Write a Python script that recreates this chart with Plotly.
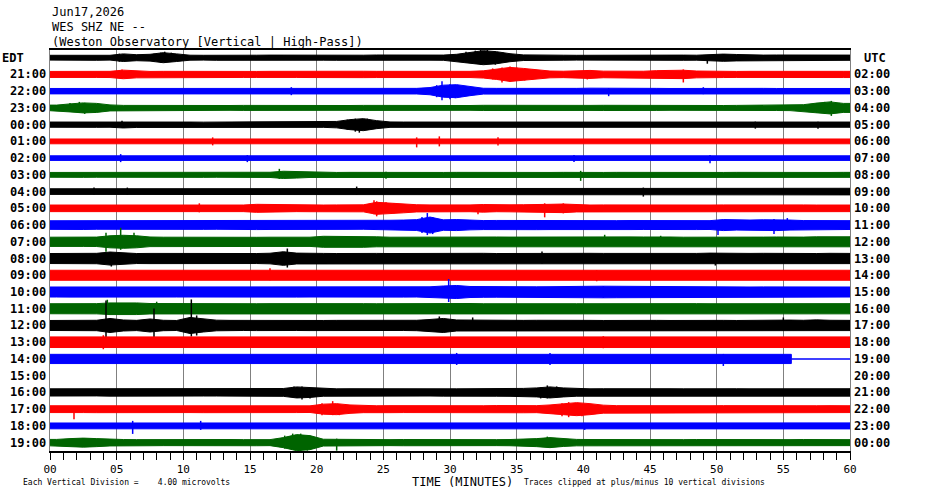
"""
Helicorder-style plot of a day of WES SHZ seismic traces, one row per hour.
Each trace is drawn as its amplitude envelope (read per minute) plus
the stand-out spikes.
"""

import plotly.graph_objects as go

# tick labels along the time axis
tick_minutes = [0, 5, 10, 15, 20, 25, 30, 35, 40, 45, 50, 55, 60]
tick_text = ['00', '05', '10', '15', '20', '25', '30', '35', '40', '45',
             '50', '55', '60']

# hour labels, local (EDT) on the left, UTC on the right
edt_labels = ['', '21:00', '22:00', '23:00', '00:00', '01:00', '02:00',
              '03:00', '04:00', '05:00', '06:00', '07:00', '08:00', '09:00',
              '10:00', '11:00', '12:00', '13:00', '14:00', '15:00', '16:00',
              '17:00', '18:00', '19:00']
utc_labels = ['', '02:00', '03:00', '04:00', '05:00', '06:00', '07:00',
              '08:00', '09:00', '10:00', '11:00', '12:00', '13:00', '14:00',
              '15:00', '16:00', '17:00', '18:00', '19:00', '20:00', '21:00',
              '22:00', '23:00', '00:00']

# half-amplitude of each trace, one value per minute (pixels at this scale)
env_2000 = [2.4, 2.5, 2.4, 2.6, 2.4, 3.8, 3.0, 3.4, 5.0, 3.8,
            2.5, 2.4, 2.6, 2.5, 2.4, 2.5, 2.6, 2.5, 2.4, 2.6,
            2.5, 2.6, 2.6, 2.5, 2.7, 2.6, 2.5, 2.6, 2.5, 2.6,
            3.4, 5.5, 7.0, 6.0, 4.0, 2.8, 2.5, 2.6, 2.5, 2.4,
            2.5, 2.6, 2.5, 2.4, 2.5, 2.6, 2.5, 2.6, 2.5, 3.0,
            3.6, 3.2, 2.7, 2.6, 2.7, 2.6, 2.5, 2.6, 2.7, 2.6]
env_2100 = [3.0, 3.1, 3.2, 3.0, 3.1, 4.3, 3.4, 3.0, 3.1, 3.0,
            3.1, 3.0, 3.0, 3.1, 3.0, 3.0, 3.1, 3.2, 3.0, 3.1,
            3.0, 3.1, 3.0, 3.2, 3.1, 3.0, 3.1, 3.2, 3.0, 3.1,
            3.0, 3.1, 3.6, 5.0, 7.0, 6.0, 4.5, 3.4, 3.2, 3.3,
            4.0, 3.3, 3.2, 3.1, 3.2, 3.8, 4.0, 4.2, 3.4, 3.1,
            3.1, 3.0, 3.1, 3.0, 3.1, 3.0, 3.1, 3.2, 3.0, 3.1]
env_2200 = [2.7, 2.8, 2.7, 2.7, 2.8, 2.8, 2.7, 2.8, 2.7, 2.7,
            2.7, 2.8, 2.7, 2.8, 2.7, 2.7, 2.8, 2.9, 3.3, 2.8,
            2.7, 2.8, 2.7, 2.8, 2.7, 2.7, 2.8, 2.8, 3.6, 6.0,
            6.5, 4.5, 2.9, 2.8, 2.7, 2.8, 2.7, 2.8, 2.7, 2.8,
            3.0, 3.1, 3.0, 2.8, 2.7, 2.8, 2.7, 2.8, 3.0, 2.8,
            3.0, 2.8, 2.7, 2.8, 2.7, 2.7, 2.8, 2.7, 2.8, 2.7]
env_2300 = [2.8, 4.0, 5.0, 4.5, 3.0, 2.5, 2.4, 2.5, 2.4, 2.5,
            2.4, 2.5, 2.4, 2.4, 2.5, 2.4, 2.5, 2.4, 2.5, 2.4,
            2.4, 2.5, 2.4, 2.5, 2.4, 2.4, 2.5, 2.4, 2.4, 2.5,
            2.5, 2.4, 2.6, 2.5, 2.4, 2.5, 2.6, 2.5, 2.4, 2.6,
            2.5, 2.6, 2.5, 2.6, 2.7, 2.5, 2.4, 2.5, 2.6, 2.5,
            2.4, 2.5, 2.6, 2.5, 2.6, 2.7, 3.2, 4.8, 6.0, 4.5]
env_0000 = [2.6, 2.7, 2.6, 2.7, 2.6, 3.3, 2.8, 2.6, 2.7, 2.6,
            2.6, 2.5, 2.6, 2.7, 2.6, 2.6, 2.7, 2.6, 2.6, 2.7,
            2.7, 3.2, 5.0, 6.0, 4.0, 2.7, 2.6, 2.6, 2.7, 2.6,
            2.6, 2.7, 2.6, 2.6, 2.7, 2.6, 2.6, 2.7, 2.6, 2.6,
            2.7, 2.6, 2.6, 2.7, 2.6, 2.6, 2.7, 2.6, 2.6, 2.7,
            2.6, 2.6, 2.8, 2.9, 2.6, 2.6, 2.7, 2.9, 2.6, 2.6]
env_0100 = [2.4, 2.5, 2.4, 2.5, 2.4, 2.5, 2.4, 2.4, 2.5, 2.4,
            2.4, 2.5, 3.0, 2.5, 2.4, 2.5, 2.4, 2.5, 2.4, 2.4,
            2.5, 2.4, 2.4, 2.5, 2.4, 2.5, 2.4, 3.0, 2.5, 3.0,
            2.5, 2.4, 2.5, 2.8, 2.5, 2.4, 2.5, 2.4, 2.5, 2.4,
            2.4, 2.5, 2.4, 2.5, 2.4, 2.4, 2.5, 2.4, 2.5, 2.4,
            2.5, 2.4, 2.5, 2.4, 2.4, 2.5, 2.4, 2.5, 2.4, 2.4]
env_0200 = [2.3, 2.3, 2.4, 2.3, 2.3, 2.8, 2.4, 2.3, 2.3, 2.4,
            2.3, 2.3, 2.4, 2.3, 2.6, 2.4, 2.3, 2.3, 2.4, 2.3,
            2.3, 2.4, 2.3, 2.3, 2.4, 2.3, 2.3, 2.4, 2.3, 2.3,
            2.4, 2.3, 2.3, 2.4, 2.3, 2.3, 2.4, 2.3, 2.3, 2.6,
            2.3, 2.4, 2.3, 2.3, 2.4, 2.3, 2.3, 2.4, 2.3, 2.8,
            2.3, 2.4, 2.3, 2.3, 2.4, 2.3, 2.3, 2.4, 2.3, 2.3]
env_0300 = [2.4, 2.4, 2.5, 2.4, 2.4, 2.5, 2.4, 2.4, 2.5, 2.4,
            2.4, 2.5, 2.4, 2.4, 2.5, 2.4, 2.6, 3.6, 3.2, 2.6,
            2.5, 2.4, 2.5, 2.4, 2.5, 2.9, 2.5, 2.4, 2.5, 2.4,
            2.5, 2.4, 2.4, 2.5, 2.4, 2.5, 2.4, 2.4, 2.5, 2.7,
            2.5, 2.4, 2.5, 2.4, 2.6, 2.5, 2.4, 2.5, 2.4, 2.5,
            2.4, 2.5, 2.4, 2.5, 2.4, 2.5, 2.4, 2.5, 2.4, 2.5]
env_0400 = [2.8, 2.9, 3.0, 3.3, 2.9, 3.0, 3.3, 2.9, 2.8, 3.0,
            2.9, 2.8, 3.0, 2.9, 2.8, 3.0, 3.1, 2.9, 2.8, 2.9,
            3.2, 3.0, 3.1, 3.4, 2.9, 2.8, 2.9, 3.0, 2.9, 2.8,
            2.9, 2.8, 2.9, 3.0, 2.9, 3.0, 2.9, 2.8, 3.0, 2.9,
            2.9, 3.0, 2.9, 3.0, 3.4, 3.0, 2.9, 2.8, 3.0, 2.9,
            3.1, 3.0, 2.9, 3.0, 2.9, 3.0, 3.1, 2.9, 3.0, 3.3]
env_0500 = [3.3, 3.2, 3.3, 3.4, 3.3, 3.2, 3.3, 3.4, 3.3, 3.2,
            3.3, 3.8, 3.4, 3.3, 3.3, 4.0, 3.8, 3.4, 3.3, 3.4,
            3.3, 3.4, 3.3, 3.5, 6.0, 5.0, 4.5, 3.6, 3.4, 3.3,
            3.3, 3.4, 3.8, 3.4, 3.5, 3.6, 3.5, 4.0, 4.3, 3.6,
            3.3, 3.4, 3.3, 3.4, 3.3, 3.6, 3.4, 3.3, 3.4, 3.3,
            3.4, 3.5, 3.4, 3.3, 3.4, 3.3, 3.4, 3.3, 3.4, 3.3]
env_0600 = [4.3, 4.2, 4.4, 4.2, 4.3, 4.4, 4.3, 4.2, 4.3, 4.2,
            4.2, 4.3, 4.2, 4.3, 4.2, 4.5, 4.4, 4.3, 4.2, 4.3,
            4.3, 4.2, 4.3, 4.2, 4.4, 4.8, 5.0, 5.4, 8.0, 5.2,
            5.5, 4.8, 4.5, 4.6, 4.5, 4.4, 4.6, 4.5, 4.4, 4.5,
            4.6, 4.5, 4.4, 4.5, 4.4, 4.5, 4.4, 4.3, 4.5, 4.4,
            5.5, 5.0, 5.0, 5.3, 5.5, 5.0, 4.5, 4.4, 4.5, 4.4]
env_0700 = [4.6, 4.5, 4.6, 4.7, 6.0, 6.5, 6.0, 4.8, 4.6, 4.5,
            4.6, 4.5, 4.6, 4.5, 4.6, 4.5, 4.6, 4.5, 4.6, 4.6,
            5.5, 5.5, 5.4, 5.5, 5.0, 4.6, 4.7, 4.6, 4.5, 4.6,
            4.6, 4.7, 4.6, 4.8, 4.7, 4.8, 4.7, 4.6, 4.7, 4.6,
            4.8, 5.0, 5.2, 4.9, 4.8, 5.0, 4.8, 4.6, 4.5, 4.6,
            4.8, 4.9, 4.8, 4.7, 4.8, 4.6, 4.7, 5.0, 5.2, 5.0]
env_0800 = [5.0, 5.1, 5.0, 5.2, 6.5, 5.5, 5.0, 5.1, 5.0, 5.2,
            5.1, 5.0, 5.2, 5.0, 5.1, 5.0, 5.3, 6.8, 5.4, 5.0,
            5.1, 5.0, 5.2, 5.0, 5.1, 5.0, 5.1, 5.0, 5.2, 5.1,
            5.0, 5.1, 5.2, 5.0, 5.1, 5.0, 5.4, 5.2, 5.0, 5.1,
            5.2, 5.1, 5.0, 5.1, 5.0, 5.1, 5.0, 5.2, 5.1, 5.4,
            5.1, 5.0, 5.1, 5.2, 5.0, 5.3, 5.1, 5.0, 5.2, 5.1]
env_0900 = [5.0, 5.2, 5.0, 5.1, 5.0, 5.2, 5.1, 5.0, 5.1, 5.0,
            5.1, 5.0, 5.2, 5.1, 5.0, 5.1, 5.3, 5.1, 5.0, 5.1,
            5.0, 5.1, 5.0, 5.2, 5.0, 5.1, 5.0, 5.1, 5.0, 5.2,
            5.1, 5.0, 5.1, 5.0, 5.2, 5.1, 5.0, 5.1, 5.0, 5.1,
            5.2, 5.3, 5.1, 5.0, 5.1, 5.0, 5.2, 5.1, 5.0, 5.1,
            5.0, 5.1, 5.2, 5.0, 5.1, 5.3, 5.4, 5.2, 5.1, 5.0]
env_1000 = [5.0, 5.1, 5.0, 5.1, 5.0, 5.2, 5.1, 5.0, 5.1, 5.0,
            5.0, 5.1, 5.0, 5.2, 5.1, 5.0, 5.1, 5.0, 5.1, 5.0,
            5.1, 5.0, 5.1, 5.0, 5.2, 5.0, 5.1, 5.0, 5.2, 6.0,
            6.5, 5.5, 5.3, 5.2, 5.1, 5.0, 5.2, 5.3, 5.2, 5.1,
            5.7, 5.8, 5.7, 5.6, 5.7, 5.0, 5.1, 5.0, 5.1, 5.0,
            5.0, 5.1, 5.0, 5.1, 5.0, 5.2, 5.1, 5.0, 5.1, 5.0]
env_1100 = [5.0, 5.1, 5.0, 5.1, 5.8, 6.0, 5.8, 5.2, 5.1, 5.0,
            5.1, 5.0, 5.1, 5.0, 5.1, 5.0, 5.1, 5.2, 5.0, 5.1,
            5.0, 5.1, 5.0, 5.1, 5.0, 5.1, 5.0, 5.1, 5.0, 5.1,
            5.1, 5.2, 5.0, 5.1, 5.0, 5.1, 5.2, 5.0, 5.1, 5.0,
            5.0, 5.1, 5.0, 5.2, 5.1, 5.0, 5.1, 5.0, 5.1, 5.0,
            5.0, 5.1, 5.0, 5.1, 5.0, 5.1, 5.0, 5.1, 5.2, 5.1]
env_1200 = [5.0, 5.1, 5.0, 5.2, 7.0, 5.5, 5.1, 6.5, 5.2, 5.0,
            8.0, 6.5, 5.3, 5.1, 5.0, 5.1, 5.0, 5.2, 5.0, 5.1,
            5.0, 5.1, 5.0, 5.1, 5.0, 5.1, 5.0, 5.2, 6.0, 7.0,
            5.5, 5.3, 5.2, 5.1, 5.0, 5.1, 5.2, 5.0, 5.1, 5.0,
            5.1, 5.0, 5.2, 5.1, 5.0, 5.1, 5.0, 5.2, 5.1, 5.0,
            5.1, 5.0, 5.2, 5.0, 5.1, 5.4, 5.2, 5.6, 5.2, 5.1]
env_1300 = [5.3, 5.4, 5.3, 5.2, 5.4, 5.3, 5.5, 5.3, 5.4, 5.3,
            5.3, 5.2, 5.4, 5.3, 5.3, 5.4, 5.3, 5.2, 5.4, 5.3,
            5.4, 5.3, 5.3, 5.2, 5.4, 5.3, 5.4, 5.3, 5.3, 5.4,
            5.3, 5.4, 5.3, 5.2, 5.3, 5.4, 5.3, 5.3, 5.4, 5.3,
            5.4, 5.3, 5.2, 5.3, 5.4, 5.3, 5.3, 5.4, 5.3, 5.2,
            5.3, 5.4, 5.3, 5.3, 5.5, 5.6, 5.4, 5.3, 5.4, 5.3]
env_1400 = [4.6, 4.7, 4.6, 4.5, 4.7, 4.6, 4.5, 4.6, 4.7, 4.6,
            4.6, 4.5, 4.7, 4.6, 4.6, 4.5, 4.6, 4.7, 4.6, 4.5,
            4.6, 4.7, 4.6, 4.5, 4.6, 4.7, 4.8, 4.6, 4.7, 4.6,
            4.6, 4.8, 5.0, 4.9, 4.8, 4.7, 4.8, 4.7, 4.6, 4.7,
            4.6, 4.7, 4.8, 4.7, 4.6, 4.8, 4.7, 4.6, 4.7, 4.6,
            4.7, 4.6, 4.7, 4.6, 4.7, 4.6]
env_1500 = []
env_1600 = [3.6, 3.7, 3.6, 3.5, 3.7, 3.6, 3.7, 3.6, 3.5, 3.6,
            3.7, 3.6, 3.6, 3.7, 3.5, 3.6, 3.7, 3.9, 5.5, 5.0,
            3.8, 3.6, 3.7, 3.6, 3.5, 3.6, 3.7, 3.6, 3.6, 3.7,
            3.6, 3.7, 3.6, 3.8, 3.9, 4.0, 4.5, 5.5, 4.5, 3.8,
            3.6, 3.7, 3.8, 3.6, 3.7, 3.6, 3.7, 3.6, 3.8, 3.7,
            3.6, 3.7, 3.6, 3.7, 3.6, 3.7, 3.6, 3.7, 3.6, 3.7]
env_1700 = [3.4, 3.6, 3.4, 3.5, 3.4, 3.5, 3.4, 3.3, 3.4, 3.5,
            3.4, 3.5, 3.4, 3.3, 3.4, 3.5, 3.4, 3.5, 3.4, 3.3,
            5.0, 5.5, 4.2, 3.5, 3.4, 3.5, 3.4, 3.3, 3.4, 3.5,
            3.4, 3.5, 3.4, 3.6, 3.5, 3.6, 3.5, 4.2, 5.5, 6.5,
            5.5, 4.0, 3.5, 3.4, 3.5, 3.4, 3.5, 3.4, 3.5, 3.4,
            3.5, 3.4, 3.5, 3.4, 3.5, 3.6, 3.5, 3.4, 3.5, 3.4]
env_1800 = [2.9, 3.0, 2.9, 2.8, 2.9, 3.0, 3.4, 2.9, 3.0, 2.9,
            2.9, 3.3, 2.9, 3.0, 2.9, 3.0, 2.9, 2.8, 2.9, 3.0,
            2.9, 3.0, 2.9, 2.8, 2.9, 3.0, 2.9, 3.0, 2.9, 2.8,
            3.0, 2.9, 3.0, 2.9, 3.1, 3.0, 2.9, 3.0, 2.9, 3.0,
            3.2, 3.0, 2.9, 3.0, 2.9, 3.0, 2.9, 3.0, 2.9, 3.0,
            2.9, 3.0, 2.9, 3.0, 2.9, 3.0, 2.9, 3.0, 2.9, 3.0]
env_1900 = [3.2, 4.0, 4.5, 4.0, 3.3, 3.1, 3.0, 3.1, 3.0, 3.1,
            3.0, 3.1, 3.0, 3.1, 3.0, 3.1, 3.0, 5.0, 8.0, 7.0,
            3.4, 3.3, 3.1, 3.0, 3.1, 3.0, 3.1, 3.0, 3.1, 3.0,
            3.1, 3.0, 3.1, 3.0, 3.1, 3.2, 4.0, 5.0, 3.8, 3.2,
            3.1, 3.0, 3.1, 3.0, 3.1, 3.0, 3.1, 3.0, 3.1, 3.0,
            3.1, 3.0, 3.1, 3.0, 3.1, 3.0, 3.1, 3.0, 3.1, 3.0]

envelopes = [env_2000, env_2100, env_2200, env_2300, env_0000, env_0100,
             env_0200, env_0300, env_0400, env_0500, env_0600, env_0700,
             env_0800, env_0900, env_1000, env_1100, env_1200, env_1300,
             env_1400, env_1500, env_1600, env_1700, env_1800, env_1900]

# minute where each row's data stops (the 14:00 row goes flat after that)
data_end_min = [60, 60, 60, 60, 60, 60, 60, 60, 60, 60, 60, 60,
                60, 60, 60, 60, 60, 60, 55.6, 0, 60, 60, 60, 60]

# stand-out spikes per row: (minute, up, down)
spikes = [
    [(5.2, 4, 4), (7.8, 4, 4), (8.3, 5, 5), (8.6, 6, 5), (9.1, 5, 4),
     (31.2, 6, 5), (31.9, 7, 6), (32.3, 8, 7), (32.8, 9, 6), (33.4, 6, 7),
     (34.0, 5, 4), (49.3, 2, 6)],
    [(5.4, 5, 4), (33.2, 6, 5), (33.9, 7, 8), (34.5, 8, 7), (35.0, 7, 6),
     (35.6, 6, 6), (36.2, 5, 5), (40.3, 4, 5), (47.5, 5, 8)],
    [(18.1, 4, 4), (29.0, 6, 6), (29.4, 10, 9), (30.0, 7, 8), (30.4, 6, 7),
     (41.9, 3, 5), (49.0, 4, 3)],
    [(1.5, 5, 4), (2.2, 6, 5), (2.6, 5, 6), (3.4, 4, 5), (57.5, 5, 5),
     (58.1, 6, 6), (58.6, 7, 8), (59.2, 5, 5)],
    [(5.4, 4, 3), (22.3, 5, 5), (22.9, 6, 7), (23.2, 5, 8), (23.8, 6, 5),
     (52.9, 3, 4), (57.6, 3, 4)],
    [(12.2, 4, 4), (27.5, 4, 6), (29.2, 5, 5), (33.6, 4, 4)],
    [(5.3, 4, 4), (14.8, 3, 4), (39.3, 3, 4), (49.5, 3, 5)],
    [(17.2, 6, 4), (25.2, 3, 4), (39.8, 4, 6)],
    [(3.3, 4, 3), (5.8, 4, 3), (23.0, 5, 3), (44.5, 4, 5)],
    [(11.2, 5, 4), (24.3, 8, 6), (24.5, 7, 8), (25.2, 6, 5), (25.8, 5, 5),
     (32.1, 3, 6), (37.1, 5, 9), (38.5, 5, 5)],
    [(27.9, 8, 8), (28.3, 12, 10), (28.7, 8, 9), (50.1, 4, 10),
     (54.3, 6, 9), (55.3, 7, 4)],
    [(4.2, 9, 10), (5.3, 14, 8), (6.3, 9, 5), (41.6, 7, 4), (45.8, 6, 4)],
    [(4.6, 6, 8), (17.8, 10, 9), (36.9, 7, 5), (49.9, 5, 7)],
    [(16.5, 7, 5), (41.0, 5, 6)],
    [(29.9, 13, 10), (41.5, 6, 6)],
    [(4.3, 9, 5), (8.0, 7, 5)],
    [(4.2, 25, 20), (7.8, 17, 12), (10.6, 26, 11), (11.0, 10, 10),
     (29.2, 9, 6), (31.7, 8, 5), (55.0, 8, 5)],
    [(4.0, 7, 7), (41.5, 6, 6)],
    [(30.5, 6, 6), (37.5, 6, 6), (50.5, 5, 7)],
    [],
    [(18.3, 6, 5), (18.9, 6, 7), (19.5, 4, 6), (36.8, 5, 6), (37.3, 7, 6),
     (38.0, 6, 5)],
    [(1.8, 3, 10), (20.4, 6, 6), (21.2, 8, 6), (21.7, 5, 6), (38.4, 6, 7),
     (38.9, 7, 8), (39.4, 6, 6), (39.9, 5, 7)],
    [(6.2, 5, 8), (11.3, 5, 4), (40.1, 3, 4)],
    [(17.6, 7, 6), (18.2, 9, 6), (18.8, 9, 11), (19.3, 7, 8), (19.7, 6, 5),
     (21.5, 4, 8), (37.3, 6, 4)],
]

trace_colors = ['#000000', '#ff0000', '#0000ff', '#006400']
ROW_PX = 16.7          # pixel spacing between hour rows
FONT = 'DejaVu Sans Mono'

fig = go.Figure()

for row, vals in enumerate(envelopes):
    color = trace_colors[row % 4]
    end = data_end_min[row]
    if vals:
        xs = [0] + [i + 0.5 for i in range(len(vals))] + [end]
        amp = [vals[0]] + vals + [vals[-1]]
        upper = [row - a / ROW_PX for a in amp]
        lower = [row + a / ROW_PX for a in amp]
        fig.add_trace(go.Scatter(
            x=xs + xs[::-1],
            y=upper + lower[::-1],
            mode='lines',
            fill='toself',
            fillcolor=color,
            line={'color': color, 'width': 1},
            hoverinfo='skip',
            showlegend=False
        ))
        if end < 60:
            fig.add_trace(go.Scatter(
                x=[end, 60], y=[row, row], mode='lines',
                line={'color': color, 'width': 1.5},
                hoverinfo='skip', showlegend=False
            ))

    sx, sy = [], []
    for minute, up, down in spikes[row]:
        sx += [minute, minute, None]
        sy += [row - up / ROW_PX, row + down / ROW_PX, None]
    if sx:
        fig.add_trace(go.Scatter(
            x=sx, y=sy, mode='lines',
            line={'color': color, 'width': 1.5},
            hoverinfo='skip', showlegend=False
        ))

# hour labels on both sides
for row in range(len(edt_labels)):
    if edt_labels[row]:
        fig.add_annotation(
            x=0, xref='paper', y=row, yref='y',
            text='<b>' + edt_labels[row] + '</b>',
            xanchor='right', xshift=-2, showarrow=False,
            font={'family': FONT, 'size': 12, 'color': 'black'}
        )
    if utc_labels[row]:
        fig.add_annotation(
            x=1, xref='paper', y=row, yref='y',
            text='<b>' + utc_labels[row] + '</b>',
            xanchor='left', xshift=2, showarrow=False,
            font={'family': FONT, 'size': 12, 'color': 'black'}
        )

fig.add_annotation(x=-50 / 800, xref='paper', y=0, yref='y',
                   text='<b>EDT</b>', xanchor='left', showarrow=False,
                   font={'family': FONT, 'size': 12, 'color': 'black'})
fig.add_annotation(x=1.031, xref='paper', y=0, yref='y',
                   text='<b>UTC</b>', xanchor='center', showarrow=False,
                   font={'family': FONT, 'size': 12, 'color': 'black'})

# header lines
header = ['Jun17,2026', 'WES SHZ NE --',
          '(Weston Observatory [Vertical | High-Pass])']
for k, line in enumerate(header):
    fig.add_annotation(
        x=0, xref='paper', y=1 + (38 - 15 * k) / 401, yref='paper',
        text=line, xanchor='left', yanchor='middle', showarrow=False,
        font={'family': FONT, 'size': 12, 'color': 'black'}
    )

# footer texts
fig.add_annotation(x=(462 - 50) / 800, xref='paper', y=-31 / 401,
                   yref='paper', text='TIME (MINUTES)', xanchor='center',
                   yanchor='middle', showarrow=False,
                   font={'family': FONT, 'size': 12, 'color': 'black'})
fig.add_annotation(x=(21 - 50) / 800, xref='paper', y=-31 / 401,
                   yref='paper',
                   text='Each Vertical Division =    4.00 microvolts',
                   xanchor='left', yanchor='middle', showarrow=False,
                   font={'family': FONT, 'size': 8, 'color': 'black'})
fig.add_annotation(x=(522 - 50) / 800, xref='paper', y=-31 / 401,
                   yref='paper',
                   text='Traces clipped at plus/minus 10 vertical divisions',
                   xanchor='left', yanchor='middle', showarrow=False,
                   font={'family': FONT, 'size': 8, 'color': 'black'})

fig.update_layout(
    width=930,
    height=494,
    margin={'l': 50, 'r': 80, 't': 50, 'b': 43},
    plot_bgcolor='#FFFFFF',
    paper_bgcolor='#FFFFFF',
    showlegend=False
)
fig.update_xaxes(
    range=[0, 60],
    tickmode='array',
    tickvals=tick_minutes,
    ticktext=tick_text,
    ticks='outside',
    ticklen=7,
    tickcolor='black',
    tickfont={'family': FONT, 'size': 11, 'color': 'black'},
    minor={'tickmode': 'linear', 'tick0': 0, 'dtick': 1, 'ticks': 'outside',
           'ticklen': 7, 'tickcolor': 'black', 'showgrid': False},
    showgrid=True,
    gridcolor='#808080',
    gridwidth=1,
    showline=True,
    linecolor='black',
    linewidth=1.5,
    mirror=True,
    zeroline=False,
    layer='above traces'
)
fig.update_yaxes(
    range=[23.5, -0.46],
    showgrid=False,
    showticklabels=False,
    zeroline=False,
    showline=True,
    linecolor='#808080',
    mirror=True,
    ticks=''
)

# drop the page's default body margin so the figure sits at the top-left
fig.write_html('out.html', config={'displayModeBar': False},
               post_script="document.body.style.margin = '0';")
